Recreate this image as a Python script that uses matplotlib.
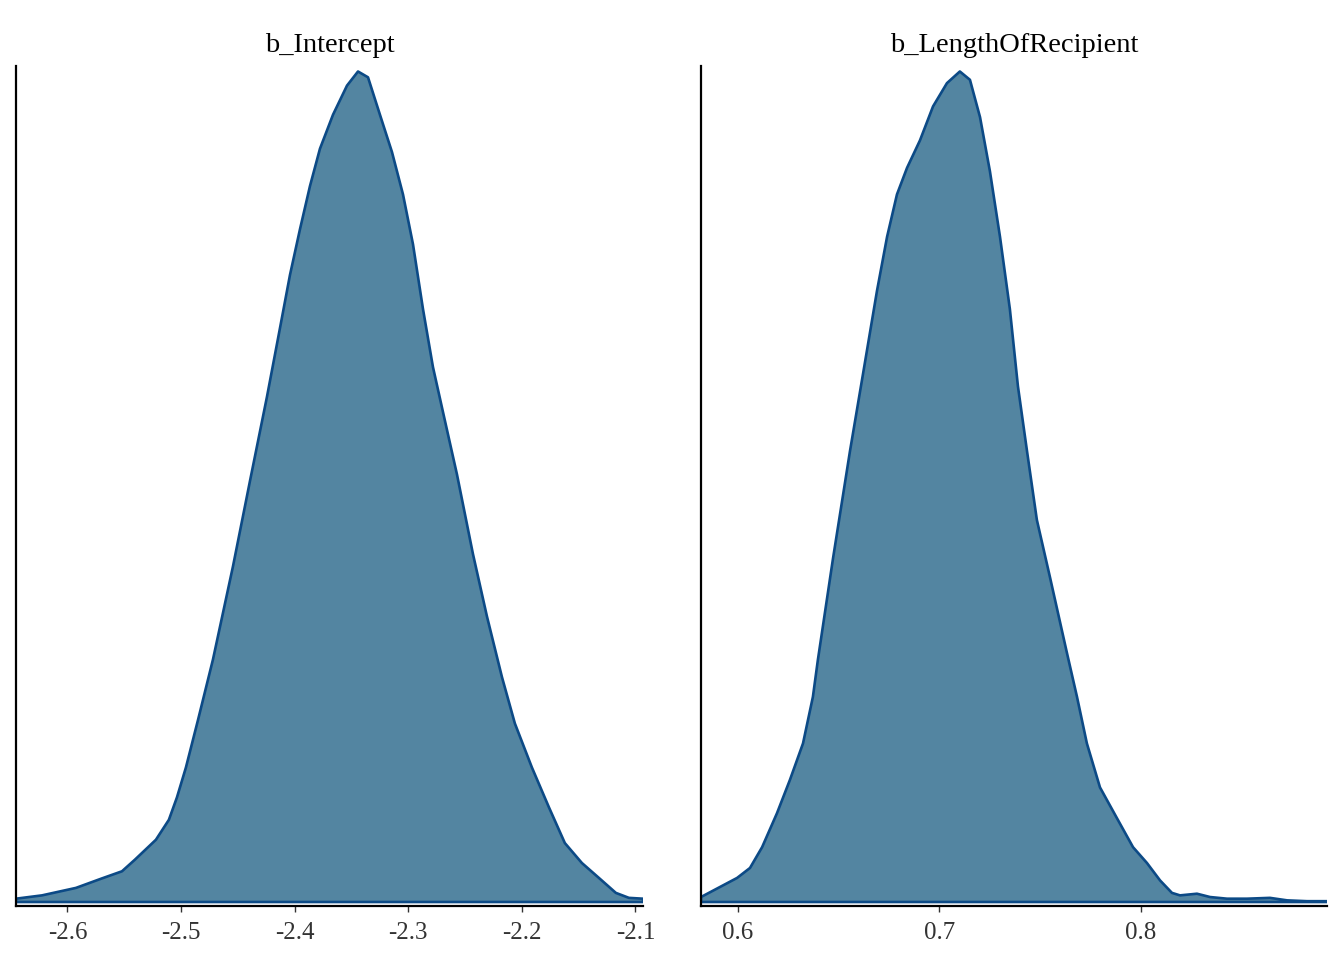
import matplotlib
matplotlib.use("Agg")
from matplotlib import pyplot as plt

# posterior density traces (height relative to the mode)
intercept_x = [-2.6453, -2.6224, -2.5925, -2.5705, -2.5520, -2.5406, -2.5221, -2.5107, -2.5036,
               -2.4957, -2.4851, -2.4719, -2.4543, -2.4393, -2.4244, -2.4129, -2.4041, -2.3953,
               -2.3865, -2.3777, -2.3662, -2.3539, -2.3442, -2.3354, -2.3249, -2.3143, -2.3046,
               -2.2958, -2.2870, -2.2782, -2.2694, -2.2571, -2.2430, -2.2307, -2.2175, -2.2061,
               -2.1911, -2.1761, -2.1621, -2.1471, -2.1321, -2.1172, -2.1057, -2.0933]
intercept_d = [0.004, 0.008, 0.017, 0.028, 0.037, 0.051, 0.075, 0.099, 0.126,
               0.162, 0.219, 0.292, 0.404, 0.507, 0.608, 0.691, 0.755, 0.810,
               0.862, 0.907, 0.948, 0.983, 1.000, 0.993, 0.948, 0.903, 0.852,
               0.792, 0.714, 0.644, 0.590, 0.515, 0.419, 0.344, 0.271, 0.215,
               0.162, 0.114, 0.071, 0.047, 0.029, 0.011, 0.005, 0.004]

length_x = [0.5818, 0.5997, 0.6061, 0.6121, 0.6195, 0.6259, 0.6324, 0.6373, 0.6398, 0.6473,
            0.6557, 0.6621, 0.6691, 0.6741, 0.6790, 0.6840, 0.6904, 0.6969, 0.7038, 0.7102,
            0.7152, 0.7202, 0.7251, 0.7301, 0.7350, 0.7390, 0.7435, 0.7484, 0.7549, 0.7633,
            0.7683, 0.7732, 0.7797, 0.7881, 0.7961, 0.8030, 0.8095, 0.8154, 0.8194, 0.8278,
            0.8343, 0.8427, 0.8526, 0.8640, 0.8725, 0.8824, 0.8923]
length_d = [0.006, 0.029, 0.041, 0.066, 0.107, 0.147, 0.191, 0.247, 0.292, 0.414,
            0.543, 0.635, 0.736, 0.801, 0.852, 0.884, 0.917, 0.958, 0.986, 1.000,
            0.990, 0.945, 0.880, 0.801, 0.714, 0.621, 0.543, 0.460, 0.391, 0.300,
            0.247, 0.191, 0.138, 0.101, 0.066, 0.047, 0.026, 0.011, 0.008, 0.010,
            0.006, 0.004, 0.004, 0.005, 0.002, 0.001, 0.001]

titles = ["b_Intercept", "b_LengthOfRecipient"]
ticks = [[-2.6, -2.5, -2.4, -2.3, -2.2, -2.1], [0.6, 0.7, 0.8]]
tick_labels = [["-2.6", "-2.5", "-2.4", "-2.3", "-2.2", "-2.1"], ["0.6", "0.7", "0.8"]]

FILL = "#5385a1"
LINE = "#0c4a86"

plt.rcParams["font.family"] = ["Liberation Serif", "DejaVu Serif"]
plt.rcParams["axes.unicode_minus"] = False

fig = plt.figure(figsize=(13.44, 9.6), dpi=100)
boxes = [(16 / 1344, 54 / 960, 627 / 1344, 840 / 960),
         (701 / 1344, 54 / 960, 626 / 1344, 840 / 960)]

for box, xs, ds, title, tk, tl in zip(boxes, [intercept_x, length_x], [intercept_d, length_d],
                                       titles, ticks, tick_labels):
    ax = fig.add_axes(box)
    # closed outline like geom_density: curve plus the baseline
    px = [xs[0]] + list(xs) + [xs[-1]]
    py = [0] + list(ds) + [0]
    ax.fill(px, py, facecolor=FILL, edgecolor=LINE, linewidth=1.9, joinstyle="round", zorder=2)
    ax.set_xlim(xs[0], xs[-1])
    ax.set_ylim(-0.0048, 1.0066)
    ax.set_xticks(tk)
    ax.set_xticklabels(tl)
    ax.set_yticks([])
    for side in ("top", "right"):
        ax.spines[side].set_visible(False)
    for side in ("left", "bottom"):
        ax.spines[side].set_linewidth(1.6)
        ax.spines[side].set_color("black")
    ax.tick_params(axis="x", length=4.5, width=1.0, color="#333333", labelcolor="#333333",
                   labelsize=18, pad=7)
    ax.set_title(title, fontsize=20.5, pad=10, color="black")

fig.savefig("out.png", dpi=100)
